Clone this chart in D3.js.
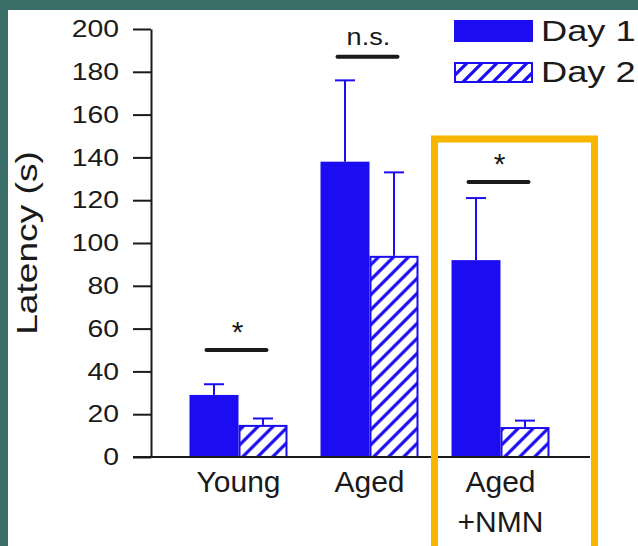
<!DOCTYPE html>
<html lang="en">
<head>
    <meta charset="UTF-8">
    <title>Latency by group</title>
    <script src="https://cdn.jsdelivr.net/npm/d3@7"></script>
    <style>
        html, body { margin: 0; padding: 0; background: #3a6e68; }
        svg { display: block; font-family: "Liberation Sans", Arial, sans-serif; }
    </style>
</head>
<body>
    <svg id="chart" width="638" height="546"></svg>
    <script>
        // values
        const groups = ['Young', 'Aged', 'Aged+NMN'];
        const groupLabels = [['Young'], ['Aged'], ['Aged', '+NMN']];
        const days = ['Day 1', 'Day 2'];
        const day1Mean = [29, 138, 92];
        const day1Sem = [5, 38, 29];
        const day2Mean = [15, 94, 14];
        const day2Sem = [3, 39, 3];
        const sigLevel = [50, 187, 128.5];
        const sigText = ['*', 'n.s.', '*'];
        const yTicks = [0, 20, 40, 60, 80, 100, 120, 140, 160, 180, 200];

        const blue = '#1c0cf2';
        const gold = '#f7b500';
        const ink = '#1a1a1a';

        const svg = d3.select('#chart');

        // white panel
        svg.append('rect')
            .attr('x', 8).attr('y', 10)
            .attr('width', 640).attr('height', 546)
            .attr('fill', '#fff');

        // hatch pattern
        const defs = svg.append('defs');
        defs.append('pattern')
            .attr('id', 'hatch')
            .attr('patternUnits', 'userSpaceOnUse')
            .attr('width', 15).attr('height', 15)
            .append('path')
            .attr('d', 'M0,15L15,0M-4,4L4,-4M11,19L19,11')
            .attr('stroke', blue)
            .attr('stroke-width', 3.2);

        // stretch a text horizontally (the figure's type runs wide)
        function stretch(sel, k) {
            sel.each(function () {
                const w = this.getComputedTextLength();
                d3.select(this)
                    .attr('textLength', w * k)
                    .attr('lengthAdjust', 'spacingAndGlyphs');
            });
        }

        const y = d3.scaleLinear().domain([0, 200]).range([457, 29]);

        const x = d3.scaleBand()
            .domain(groups)
            .range([173, 566])
            .paddingInner(0.252)
            .paddingOuter(0.126);

        const xDay = d3.scaleBand()
            .domain(days)
            .range([0, x.bandwidth()]);

        const rows = groups.map((g, i) => ({
            group: g,
            values: [
                { day: days[0], mean: day1Mean[i], sem: day1Sem[i] },
                { day: days[1], mean: day2Mean[i], sem: day2Sem[i] }
            ]
        }));

        // y axis
        const yAxis = svg.append('g')
            .attr('transform', 'translate(151,0)')
            .call(d3.axisLeft(y)
                .tickValues(yTicks)
                .tickSize(18)
                .tickSizeOuter(0)
                .tickPadding(14));
        yAxis.selectAll('path, line')
            .attr('stroke', ink)
            .attr('stroke-width', 2);
        yAxis.selectAll('text')
            .attr('font-size', 24)
            .attr('fill', ink)
            .attr('font-family', '"Liberation Sans", Arial, sans-serif')
            .call(stretch, 1.18);

        // y title
        svg.append('text')
            .attr('transform', 'translate(37,243) rotate(-90)')
            .attr('text-anchor', 'middle')
            .attr('font-size', 29)
            .attr('fill', ink)
            .text('Latency (s)')
            .call(stretch, 1.28);

        // bars
        const g = svg.selectAll('.grp')
            .data(rows)
            .enter()
            .append('g')
            .attr('class', 'grp')
            .attr('transform', d => `translate(${x(d.group)},0)`);

        // error bars (upper only)
        const err = g.selectAll('.err')
            .data(d => d.values)
            .enter()
            .append('g')
            .attr('class', 'err')
            .attr('stroke', blue)
            .attr('stroke-width', 2);
        err.append('line')
            .attr('x1', d => xDay(d.day) + xDay.bandwidth() / 2)
            .attr('x2', d => xDay(d.day) + xDay.bandwidth() / 2)
            .attr('y1', d => y(d.mean))
            .attr('y2', d => y(d.mean + d.sem));
        err.append('line')
            .attr('x1', d => xDay(d.day) + xDay.bandwidth() / 2 - 10)
            .attr('x2', d => xDay(d.day) + xDay.bandwidth() / 2 + 10)
            .attr('y1', d => y(d.mean + d.sem))
            .attr('y2', d => y(d.mean + d.sem));

        g.selectAll('.bar')
            .data(d => d.values)
            .enter()
            .append('rect')
            .attr('class', 'bar')
            .attr('x', d => d.day === days[0] ? xDay(d.day) : xDay(d.day) + 1)
            .attr('y', d => d.day === days[0] ? y(d.mean) : y(d.mean) + 1)
            .attr('width', d => d.day === days[0] ? xDay.bandwidth() : xDay.bandwidth() - 2)
            .attr('height', d => d.day === days[0] ? y(0) - y(d.mean) : y(0) - y(d.mean) - 1)
            .attr('fill', d => d.day === days[0] ? blue : 'url(#hatch)')
            .attr('stroke', d => d.day === days[0] ? 'none' : blue)
            .attr('stroke-width', 2);

        // baseline
        svg.append('line')
            .attr('x1', 133).attr('x2', 590)
            .attr('y1', y(0)).attr('y2', y(0))
            .attr('stroke', ink)
            .attr('stroke-width', 2);

        // group labels
        svg.selectAll('.xlab')
            .data(groups)
            .enter()
            .append('text')
            .attr('class', 'xlab')
            .attr('text-anchor', 'middle')
            .attr('font-size', 30)
            .attr('fill', ink)
            .attr('x', d => x(d) + x.bandwidth() / 2)
            .attr('y', 492)
            .selectAll('tspan')
            .data((d, i) => groupLabels[i])
            .enter()
            .append('tspan')
            .attr('x', function () { return this.parentNode.getAttribute('x'); })
            .attr('dy', (d, i) => i === 0 ? 0 : 40)
            .text(d => d);

        // significance marks
        groups.forEach((grp, i) => {
            const cx = x(grp) + x.bandwidth() / 2 - 2;
            const ly = y(sigLevel[i]);
            svg.append('line')
                .attr('x1', cx - 30).attr('x2', cx + 30)
                .attr('y1', ly).attr('y2', ly)
                .attr('stroke', ink)
                .attr('stroke-width', 4)
                .attr('stroke-linecap', 'round');
            const t = svg.append('text')
                .attr('x', cx + 1)
                .attr('text-anchor', 'middle')
                .attr('fill', ink)
                .text(sigText[i]);
            if (sigText[i] === '*') {
                t.attr('y', ly - 8).attr('font-size', 30);
            } else {
                t.attr('y', ly - 12).attr('font-size', 23).call(stretch, 1.18);
            }
        });

        // highlight box around the treated group
        const bx0 = x('Aged+NMN') - 17;
        const bx1 = x('Aged+NMN') + x.bandwidth() + 45;
        svg.append('rect')
            .attr('x', bx0).attr('y', 139)
            .attr('width', bx1 - bx0).attr('height', 430)
            .attr('fill', 'none')
            .attr('stroke', gold)
            .attr('stroke-width', 7);

        // legend
        const legend = svg.append('g').attr('transform', 'translate(454,20)');
        const item = legend.selectAll('.key')
            .data(days)
            .enter()
            .append('g')
            .attr('transform', (d, i) => `translate(0,${i * 41})`);
        item.append('rect')
            .attr('x', (d, i) => i === 0 ? 0 : 1)
            .attr('y', (d, i) => i === 0 ? 0 : 2)
            .attr('width', (d, i) => i === 0 ? 79 : 77)
            .attr('height', (d, i) => i === 0 ? 22 : 19)
            .attr('fill', (d, i) => i === 0 ? blue : 'url(#hatch)')
            .attr('stroke', (d, i) => i === 0 ? 'none' : blue)
            .attr('stroke-width', 2);
        item.append('text')
            .attr('x', 87)
            .attr('y', 21)
            .attr('font-size', 29)
            .attr('fill', ink)
            .text(d => d)
            .call(stretch, 1.25);
    </script>
</body>
</html>
